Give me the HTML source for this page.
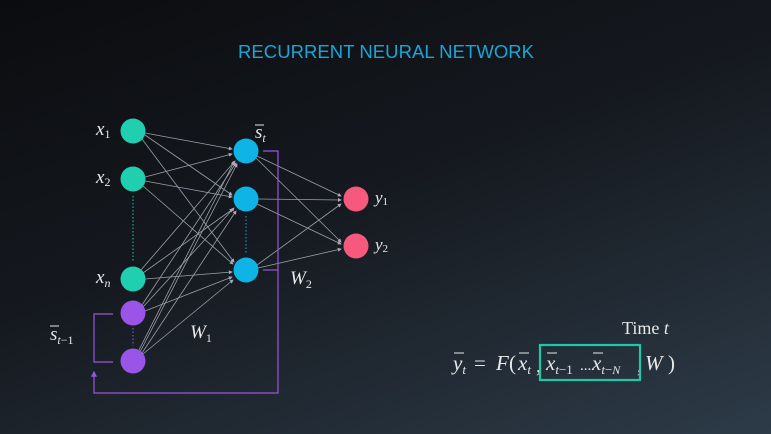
<!DOCTYPE html>
<html><head><style>
body{margin:0;width:771px;height:434px;overflow:hidden;background:linear-gradient(160deg,#0b0c0f 0%,#15191f 45%,#2d3b48 100%);font-family:"Liberation Serif",serif;}
svg{position:absolute;left:0;top:0}
</style></head><body>
<svg width="771" height="434" viewBox="0 0 771 434">
<defs><marker id="a" markerWidth="5" markerHeight="5" refX="4" refY="2.5" orient="auto"><path d="M0,0L5,2.5L0,5z" fill="#aab"/></marker>
<marker id="p" markerWidth="5" markerHeight="5" refX="4" refY="2.5" orient="auto"><path d="M0,0L5,2.5L0,5z" fill="#9a55e0"/></marker></defs>
<text x="386" y="58" text-anchor="middle" fill="#19a6d8" font-family="Liberation Sans,sans-serif" font-size="18.5" textLength="296">RECURRENT NEURAL NETWORK</text>
<g stroke="#9aa0a8" stroke-width="0.8" marker-end="url(#a)" fill="none">
<line x1="145" y1="133" x2="232" y2="149"/><line x1="145" y1="135" x2="232" y2="195"/><line x1="142" y1="139" x2="234" y2="262"/>
<line x1="145" y1="177" x2="232" y2="154"/><line x1="145" y1="181" x2="232" y2="197"/><line x1="143" y1="186" x2="233" y2="264"/>
<line x1="141" y1="270" x2="235" y2="161"/><line x1="143" y1="273" x2="233" y2="209"/><line x1="145" y1="279" x2="232" y2="272"/>
<line x1="142" y1="305" x2="236" y2="163"/><line x1="143" y1="307" x2="234" y2="208"/><line x1="145" y1="311" x2="232" y2="277"/>
<line x1="140" y1="352" x2="237" y2="164"/><line x1="142" y1="353" x2="236" y2="211"/><line x1="143" y1="354" x2="233" y2="280"/>
<line x1="138" y1="352" x2="234" y2="162"/>
<line x1="257" y1="156" x2="341" y2="196"/><line x1="256" y1="158" x2="341" y2="242"/>
<line x1="258" y1="199" x2="341" y2="200"/><line x1="257" y1="204" x2="341" y2="244"/>
<line x1="257" y1="265" x2="341" y2="204"/><line x1="258" y1="268" x2="341" y2="249"/>
</g>
<g stroke-width="1" stroke-dasharray="1.5,2" fill="none">
<line x1="133" y1="196" x2="133" y2="262" stroke="#1fc9a8"/>
<line x1="246" y1="216" x2="246" y2="253" stroke="#19a6d8"/>
<line x1="133" y1="328" x2="133" y2="346" stroke="#9a55e0"/>
</g>
<g stroke="#9a55e0" stroke-width="1.2" fill="none">
<polyline points="263,151 278,151 278,393 94,393 94,372" marker-end="url(#p)"/>
<polyline points="263,270 278,270"/>
<polyline points="113,314 94,314 94,362 113,362"/>
</g>
<g fill="#1fcfb0"><circle cx="133" cy="131" r="12.5"/><circle cx="133" cy="179" r="12.5"/><circle cx="133" cy="279" r="12.5"/></g>
<g fill="#9a55e8"><circle cx="133" cy="313" r="12.5"/><circle cx="133" cy="361" r="12.5"/></g>
<g fill="#0fb4e6"><circle cx="246" cy="151" r="12.5"/><circle cx="246" cy="199" r="12.5"/><circle cx="246" cy="270" r="12.5"/></g>
<g fill="#f7587e"><circle cx="356" cy="199" r="12.5"/><circle cx="356" cy="246" r="12.5"/></g>
<g fill="#e8e8e8" font-style="italic" font-size="19">
<text x="96" y="135">x<tspan font-size="12" dy="3" font-style="normal">1</tspan></text>
<text x="96" y="183">x<tspan font-size="12" dy="3" font-style="normal">2</tspan></text>
<text x="96" y="283">x<tspan font-size="12" dy="4" font-style="italic">n</tspan></text>
<text x="255" y="138">s<tspan font-size="12" dy="4">t</tspan></text>
<text x="375" y="203" font-size="17">y<tspan font-size="11" dy="2" font-style="normal">1</tspan></text>
<text x="375" y="250" font-size="17">y<tspan font-size="11" dy="2" font-style="normal">2</tspan></text>
<text x="290" y="284">W<tspan font-size="12" dy="4" font-style="normal">2</tspan></text>
<text x="190" y="338">W<tspan font-size="12" dy="4" font-style="normal">1</tspan></text>
<text x="50" y="340">s<tspan font-size="12" dy="4">t</tspan><tspan font-size="12" font-style="normal">−1</tspan></text>
<text x="622" y="334" font-style="normal" font-size="18">Time <tspan font-style="italic">t</tspan></text>
</g>
<g fill="#e8e8e8" font-size="21" font-style="italic">
<text x="453" y="370">y<tspan font-size="13" dy="4">t</tspan></text>
<text x="474" y="370" font-style="normal">=</text>
<text x="496" y="370">F</text>
<text x="509" y="370" font-style="normal">(</text>
<text x="518" y="370">x<tspan font-size="13" dy="4">t</tspan></text>
<text x="536" y="372" font-style="normal">,</text>
<text x="546" y="370">x<tspan font-size="13" dy="4">t</tspan><tspan font-size="13" font-style="normal">−1</tspan></text>
<text x="580" y="370" font-style="normal" font-size="15">...</text>
<text x="592" y="370">x<tspan font-size="13" dy="4">t</tspan><tspan font-size="13" font-style="normal">−</tspan><tspan font-size="12">N</tspan></text>
<text x="637" y="372" font-style="normal">,</text>
<text x="645" y="370">W</text>
<text x="668" y="370" font-style="normal">)</text>
</g>
<g stroke="#e8e8e8" stroke-width="1">
<line x1="255" y1="125" x2="264" y2="125"/><line x1="50" y1="326" x2="59" y2="326"/>
<line x1="454" y1="353" x2="464" y2="353"/><line x1="519" y1="353" x2="529" y2="353"/>
<line x1="547" y1="353" x2="557" y2="353"/><line x1="593" y1="353" x2="603" y2="353"/>
</g>
<rect x="540" y="345" width="100" height="35" fill="none" stroke="#1fc9a8" stroke-width="2.2"/>
</svg>
</body></html>
